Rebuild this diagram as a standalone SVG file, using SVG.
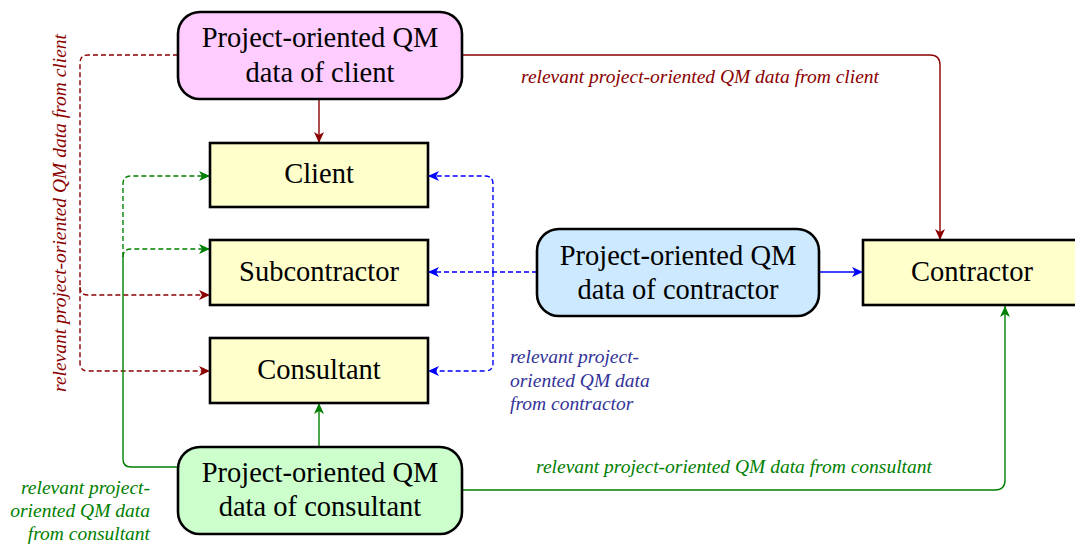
<svg xmlns="http://www.w3.org/2000/svg" width="1075" height="544" viewBox="0 0 1075 544">
  <style>
    .box { stroke: #000; stroke-width: 2.6; }
    .t { font-family: "Liberation Serif", "Times New Roman", serif; font-size: 28.5px; fill: #000; text-anchor: middle; }
    .lbl { font-family: "Liberation Serif", "Times New Roman", serif; font-size: 19.5px; font-style: italic; }
    .red { stroke: #8b0000; fill: none; stroke-width: 1.4; }
    .blue { stroke: #0000ff; fill: none; stroke-width: 1.4; }
    .green { stroke: #008000; fill: none; stroke-width: 1.4; }
    .dash { stroke-dasharray: 5 3; }
  </style>
  <defs>
    <marker id="arR" markerUnits="userSpaceOnUse" markerWidth="12" markerHeight="10" refX="11" refY="5" orient="auto">
      <path d="M0,0 L11,5 L0,10 L3,5 z" fill="#8b0000"/>
    </marker>
    <marker id="arB" markerUnits="userSpaceOnUse" markerWidth="12" markerHeight="10" refX="11" refY="5" orient="auto">
      <path d="M0,0 L11,5 L0,10 L3,5 z" fill="#0000ff"/>
    </marker>
    <marker id="arG" markerUnits="userSpaceOnUse" markerWidth="12" markerHeight="10" refX="11" refY="5" orient="auto">
      <path d="M0,0 L11,5 L0,10 L3,5 z" fill="#008000"/>
    </marker>
  </defs>

  <g id="connectors">
    <!-- client data -->
    <path class="red" d="M319,99 V143" marker-end="url(#arR)"/>
    <path class="red dash" d="M178,55 H88 Q80,55 80,63 V363 Q80,371 88,371 H210" marker-end="url(#arR)"/>
    <path class="red dash" d="M80,287 Q80,295 88,295 H210" marker-end="url(#arR)"/>
    <path class="red" d="M462,55 H930 Q940,55 940,65 V240" marker-end="url(#arR)"/>
    <!-- contractor data -->
    <path class="blue" d="M819,272 H863" marker-end="url(#arB)"/>
    <path class="blue dash" d="M537,272 H428" marker-end="url(#arB)"/>
    <path class="blue dash" d="M493,272 V184 Q493,176 485,176 H428" marker-end="url(#arB)"/>
    <path class="blue dash" d="M493,272 V363 Q493,371 485,371 H428" marker-end="url(#arB)"/>
    <!-- consultant data -->
    <path class="green" d="M319,447 V403" marker-end="url(#arG)"/>
    <path class="green" d="M178,467 H131 Q123,467 123,459 V257"/>
    <path class="green dash" d="M123,257 Q123,249 131,249 H210" marker-end="url(#arG)"/>
    <path class="green dash" d="M123,257 V184 Q123,176 131,176 H210" marker-end="url(#arG)"/>
    <path class="green" d="M462,490 H995 Q1005,490 1005,480 V306" marker-end="url(#arG)"/>

    <text class="lbl" fill="#8b0000" x="700" y="83" text-anchor="middle">relevant project-oriented QM data from client</text>
    <text class="lbl" fill="#8b0000" text-anchor="middle" transform="translate(66,213) rotate(-90)">relevant project-oriented QM data from client</text>
    <text class="lbl" fill="#333399" x="510" y="363">relevant project-</text>
    <text class="lbl" fill="#333399" x="510" y="387">oriented QM data</text>
    <text class="lbl" fill="#333399" x="510" y="410">from contractor</text>
    <text class="lbl" fill="#008000" x="734" y="473" text-anchor="middle">relevant project-oriented QM data from consultant</text>
    <text class="lbl" fill="#008000" x="150" y="494" text-anchor="end">relevant project-</text>
    <text class="lbl" fill="#008000" x="150" y="517" text-anchor="end">oriented QM data</text>
    <text class="lbl" fill="#008000" x="150" y="540" text-anchor="end">from consultant</text>
  </g>

  <g id="client-data">
    <rect class="box" x="178" y="12" width="284" height="87" rx="22" fill="#ffccff"/>
    <text class="t" x="320" y="47">Project-oriented QM</text>
    <text class="t" x="320" y="82">data of client</text>
  </g>
  <g id="client">
    <rect class="box" x="210" y="143" width="218" height="64" fill="#ffffcc"/>
    <text class="t" x="319" y="183">Client</text>
  </g>
  <g id="subcontractor">
    <rect class="box" x="210" y="240" width="218" height="65" fill="#ffffcc"/>
    <text class="t" x="319" y="281">Subcontractor</text>
  </g>
  <g id="consultant">
    <rect class="box" x="210" y="338" width="218" height="65" fill="#ffffcc"/>
    <text class="t" x="319" y="379">Consultant</text>
  </g>
  <g id="contractor-data">
    <rect class="box" x="537" y="229" width="282" height="87" rx="22" fill="#cce9ff"/>
    <text class="t" x="678" y="265">Project-oriented QM</text>
    <text class="t" x="678" y="299">data of contractor</text>
  </g>
  <g id="contractor">
    <rect class="box" x="863" y="240" width="225" height="65" fill="#ffffcc"/>
    <text class="t" x="972" y="281">Contractor</text>
  </g>
  <g id="consultant-data">
    <rect class="box" x="178" y="447" width="284" height="87" rx="22" fill="#ccffcc"/>
    <text class="t" x="320" y="482">Project-oriented QM</text>
    <text class="t" x="320" y="516">data of consultant</text>
  </g>
</svg>
